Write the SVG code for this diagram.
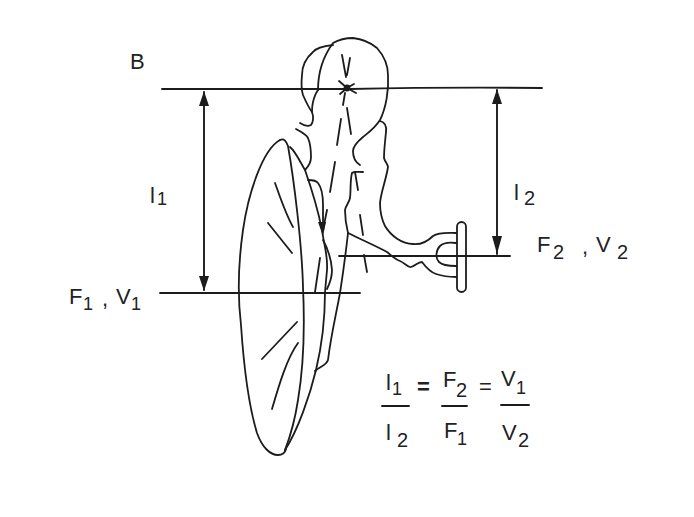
<svg xmlns="http://www.w3.org/2000/svg" width="694" height="517" viewBox="0 0 694 517">
<style>
.l{fill:none;stroke:#1c1c1c;stroke-width:1.8;stroke-linecap:round;stroke-linejoin:round}
.h{fill:none;stroke:#1c1c1c;stroke-width:1.9;stroke-linecap:round}
.t{font-family:"Liberation Sans",Arial,sans-serif;font-size:22px;fill:#222}
.s{font-family:"Liberation Sans",Arial,sans-serif;font-size:20px;fill:#222}
.o{font-family:"Liberation Sans",Arial,sans-serif;font-size:18px;fill:#222}
.b{font-family:"Liberation Sans",Arial,sans-serif;font-size:22px;font-weight:bold;fill:#222}
</style>
<rect width="694" height="517" fill="#fff"/>
<g id="connectors">
<path class="h" d="M162,89 L350,89 Q450,87 542,88"/>
<path class="h" d="M160,293 L360,293"/>
<path class="h" d="M339,256 L510,256"/>
<path class="h" d="M204,92 L204,290"/>
<path d="M204,91 L199,106 L209,106 Z M204,291 L199,276 L209,276 Z" fill="#1c1c1c"/>
<path class="h" d="M497,90 L497,254"/>
<path d="M497,89 L492,104 L502,104 Z M497,254 L492,236 L502,236 Z" fill="#1c1c1c"/>
</g>
<g id="ossicles-and-membrane">
<path class="l" d="M280,140 C262,150 248,195 243,230 C238,265 238,300 241,325 C244,370 250,410 257,433 C262,447 270,455 278,455 C282,455 285,453 286,449"/>
<path class="l" d="M280,140 C284,138 286,141 288,146 C294,180 302,245 303,287 C305,330 303,370 298,400 C295,420 290,437 285,450"/>
<path class="l" d="M290,147 C296,152 300,162 305,170 C312,190 318,210 322,230 C324,245 328,255 327,270 L325,292 C325,320 322,345 316,370 C310,395 298,430 285,450"/>
<path class="l" d="M348,233 C345,260 342,280 340,293 C336,315 331,335 328,360 C326,366 320,366 315,371"/>
<path class="l" d="M308,180 C312,180 316,180 318,183 C322,188 323,195 323,205 L323,227"/>
<path class="l" d="M323,240 C327,247 331,257 332,270 C332,278 329,285 327,289"/>
<path d="M318,222 L326,222 L323,236 Z" fill="#1c1c1c"/>
<path class="l" d="M318,90 C318,75 322,58 333,43 C340,39 346,38 353,38 C362,39 371,43 377,48 C385,57 388,65 388,75 C389,90 386,108 380,120 C375,128 368,133 363,137 C357,142 353,146 353,151 C353,157 355,162 360,165"/>
<path class="l" d="M333,45 C324,46 316,48 313,52 C306,58 302,66 302,75 C301,85 302,92 303,95 C306,102 309,108 312,112 C314,117 313,123 311,125 C307,127 303,125 300,123"/>
<path class="l" d="M318,90 C315,94 314,98 313,102 C312,106 312,109 312,112"/>
<path class="l" d="M296,129 C301,132 306,134 308,138 C311,145 311,152 311,157 C311,163 308,167 305,170"/>
<path class="l" d="M380,121 C384,122 387,125 386,132 C385,142 384,150 384,158 C385,162 388,164 388,167 C386,180 381,192 380,203 C380,212 382,220 385,226 C391,236 402,244 413,244 C422,245 428,241 433,236 C439,232 448,233 456,233"/>
<path class="l" d="M348,233 C362,240 376,246 387,252 C392,256 396,260 400,261 C405,263 408,268 411,267 C415,266 418,262 422,262 C425,266 430,272 436,274 C442,276 450,277 456,277"/>
<path class="l" d="M348,233 C346,225 345,217 345,210 C346,205 349,203 350,198 C351,190 350,180 352,173 C354,171 358,172 363,172"/>
<path class="l" d="M355,172 L358,190"/>
<path class="l" d="M360,215 L363,235"/>
<path class="l" d="M364,255 L367,272"/>
<rect class="l" x="457" y="222" width="9" height="70" rx="4.5"/>
<path class="l" d="M456,243 C448,242 443,243 440,246 C436,250 435,258 439,262 C443,266 450,266 456,266"/>
<path class="l" d="M342,55 L346,77 M350,58 L347,75 M345,93 L343,105 M341,119 L337,145 M335,162 L330,192 M347,108 L351,134 M327,210 L323,230 M320,258 L315,292"/>
<path class="l" d="M339,81 L347,88 L354,84 M340,94 L347,88 L356,93" stroke-width="2.4"/>
<circle cx="347" cy="88" r="3.4" fill="#1c1c1c"/>
<path class="l" d="M275,183 C280,197 286,215 293,227 M268,223 L292,253 M297,322 L262,359 M298,343 C287,358 279,385 272,409"/>
</g>
<g id="label-B"><text class="t" x="130" y="69">B</text></g>
<g id="label-l1"><text class="t" x="150" y="203">l</text><text class="o" x="157" y="205">1</text></g>
<g id="label-l2"><text class="t" x="514" y="200">l</text><text class="s" x="524" y="205">2</text></g>
<g id="label-F2V2"><text class="t" x="537" y="252">F</text><text class="s" x="553" y="259">2</text><text class="t" x="582" y="254">,</text><text class="t" x="596" y="252">V</text><text class="s" x="617" y="259">2</text></g>
<g id="label-F1V1"><text class="t" x="69" y="304">F</text><text class="o" x="83" y="310">1</text><text class="t" x="102" y="306">,</text><text class="t" x="116" y="304">V</text><text class="o" x="131" y="310">1</text></g>
<g id="equation">
<text class="t" x="386" y="390">l</text><text class="o" x="392" y="395">1</text>
<path class="h" d="M382,406 L409,406"/>
<text class="t" x="386" y="440">l</text><text class="s" x="397" y="447">2</text>
<text class="b" x="417" y="394">=</text>
<text class="t" x="443" y="387">F</text><text class="s" x="456" y="397">2</text>
<path class="h" d="M442,406 L467,406"/>
<text class="t" x="444" y="438">F</text><text class="o" x="457" y="445">1</text>
<text class="t" x="479" y="394">=</text>
<text class="t" x="501" y="386">V</text><text class="o" x="516" y="394">1</text>
<path class="h" d="M501,405 L529,405"/>
<text class="t" x="502" y="440">V</text><text class="s" x="518" y="447">2</text>
</g>
</svg>
